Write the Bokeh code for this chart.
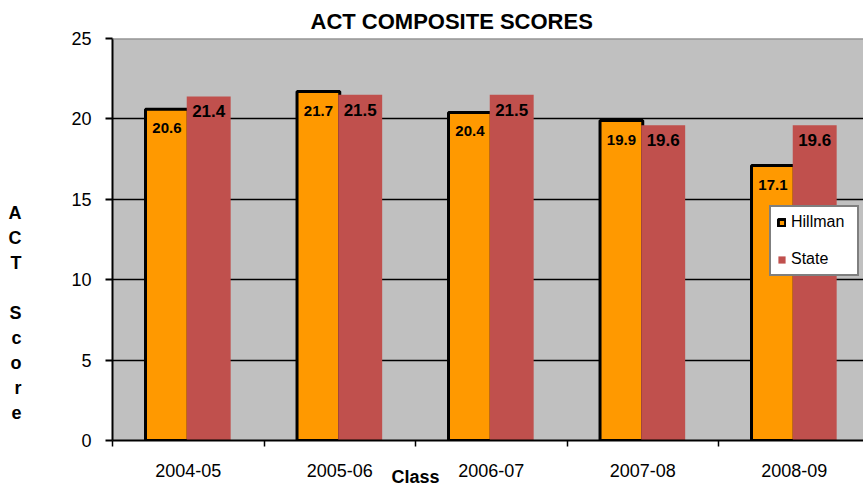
import numpy as np
from bokeh.plotting import figure
from bokeh.models import (Range1d, FixedTicker, Span, Legend, LegendItem,
                          ColumnDataSource, LinearAxis)
from bokeh.embed import file_html
from bokeh.resources import INLINE
from bokeh.core.properties import value

# ---- data ----
classes = ["2004-05", "2005-06", "2006-07", "2007-08", "2008-09"]
hillman = [20.6, 21.7, 20.4, 19.9, 17.1]
state = [21.4, 21.5, 21.5, 19.6, 19.6]
y_ticks = [0, 5, 10, 15, 20, 25]
grid_ticks = [5, 10, 15, 20]
title_text = "ACT COMPOSITE SCORES"
y_title = "A\nC\nT\n\nS\nc\no\nr\ne"
x_title = "Class"

FONT = "Liberation Sans"
ORANGE = "#FF9900"
RED = "#C0504D"
GRAY = "#C0C0C0"

n = len(classes)
centers = np.arange(n) + 0.5

p = figure(frame_width=751, frame_height=402,
           min_border_left=112, min_border_right=0,
           min_border_top=38, min_border_bottom=49,
           x_range=Range1d(0, 751 / 151.5), y_range=Range1d(0, 25),
           output_backend="svg", toolbar_location=None)

p.title.text = title_text
p.title.align = "left"
p.title.offset = 198
p.title.text_font = FONT
p.title.text_font_size = "22px"
p.title.text_font_style = "bold"
p.title.text_color = "black"
p.title.standoff = 10

p.background_fill_color = GRAY
p.border_fill_color = "white"
p.outline_line_color = None

hsrc = ColumnDataSource(dict(x=centers - 0.141, top=hillman,
                             lab=["%.1f" % v for v in hillman]))
ssrc = ColumnDataSource(dict(x=centers + 0.135, top=state,
                             lab=["%.1f" % v for v in state]))

p.xgrid.visible = False
p.ygrid.ticker = FixedTicker(ticks=grid_ticks)
p.ygrid.grid_line_color = "black"
p.ygrid.grid_line_width = 1.3
p.ygrid.grid_line_alpha = 1

hb = p.vbar(x="x", top="top", bottom=0, width=0.282, source=hsrc,
            fill_color=ORANGE, line_color="black", line_width=3)
sb = p.vbar(x="x", top="top", bottom=0, width=0.29, source=ssrc,
            fill_color=RED, line_color=None)

p.text(x="x", y="top", text="lab", source=hsrc, y_offset=19,
       text_align="center", text_baseline="middle",
       text_font=value(FONT), text_font_size="15px", text_font_style="bold",
       text_color="black")
p.text(x="x", y="top", text="lab", source=ssrc, y_offset=15,
       text_align="center", text_baseline="middle",
       text_font=value(FONT), text_font_size="17px", text_font_style="bold",
       text_color="black")

p.add_layout(Span(location=25, dimension="width", line_color="#808080", line_width=2))

# main axes
p.yaxis.ticker = FixedTicker(ticks=y_ticks)
p.yaxis.major_tick_out = 7
p.yaxis.major_tick_in = 0
p.yaxis.minor_tick_line_color = None
p.yaxis.axis_line_width = 2
p.yaxis.axis_line_color = "black"
p.yaxis.major_tick_line_width = 2
p.yaxis.major_label_text_font = FONT
p.yaxis.major_label_text_font_size = "18px"
p.yaxis.major_label_text_color = "black"
p.yaxis.major_label_standoff = 14

p.xaxis.ticker = FixedTicker(ticks=list(centers), minor_ticks=list(range(n + 1)))
p.xaxis.major_label_overrides = {float(c): cls for c, cls in zip(centers, classes)}
p.xaxis.major_tick_line_color = None
p.xaxis.major_tick_out = 0
p.xaxis.major_tick_in = 0
p.xaxis.minor_tick_out = 6
p.xaxis.minor_tick_in = 0
p.xaxis.minor_tick_line_width = 1.5
p.xaxis.minor_tick_line_color = "black"
p.xaxis.axis_line_width = 2
p.xaxis.axis_line_color = "black"
p.xaxis.major_label_text_font = FONT
p.xaxis.major_label_text_font_size = "18px"
p.xaxis.major_label_text_color = "black"
p.xaxis.major_label_standoff = 17


def title_axis(tick, text, **kw):
    ax = LinearAxis(ticker=FixedTicker(ticks=[tick]),
                    major_label_overrides={tick: text}, **kw)
    ax.axis_line_color = None
    ax.major_tick_line_color = None
    ax.minor_tick_line_color = None
    ax.major_tick_out = 0
    ax.major_tick_in = 0
    ax.major_label_text_font = FONT
    ax.major_label_text_font_size = "18px"
    ax.major_label_text_font_style = "bold"
    ax.major_label_text_color = "black"
    return ax


# y-axis title: stacked letters, placed through an extra left axis
yt = title_axis(7.9, y_title, major_label_standoff=47)
yt.major_label_text_align = "center"
yt.major_label_text_line_height = 1.25
p.add_layout(yt, "left")

# x-axis title
xt = title_axis(2.0, x_title, major_label_standoff=-13)
p.add_layout(xt, "below")

legend = Legend(items=[LegendItem(label="Hillman", renderers=[hb]),
                       LegendItem(label="State", renderers=[sb])],
                location=(657, 164), orientation="vertical")
legend.border_line_color = "black"
legend.border_line_width = 2
legend.background_fill_color = "white"
legend.background_fill_alpha = 1
legend.glyph_width = 9
legend.glyph_height = 9
legend.label_text_font = FONT
legend.label_text_font_size = "16px"
legend.label_text_color = "black"
legend.label_height = 16
legend.label_width = 60
legend.label_standoff = 5
legend.spacing = 19
legend.padding = 6
legend.margin = 0
p.add_layout(legend)

open("out.html", "w").write(file_html(p, INLINE))
